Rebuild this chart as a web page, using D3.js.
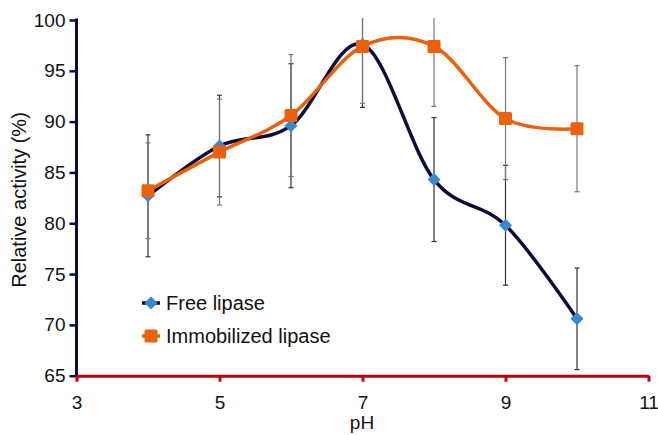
<!DOCTYPE html>
<html>
<head>
<meta charset="utf-8">
<script src="https://cdn.jsdelivr.net/npm/d3@7"></script>
<style>
  html, body { margin: 0; padding: 0; background: #fff; }
  svg { display: block; font-family: "Liberation Sans", Arial, Helvetica, sans-serif; }
</style>
</head>
<body>
<svg id="chart" width="658" height="435"></svg>
<script>
// ---- data ----
const pH = [4, 5, 6, 7, 8, 9, 10];
const freeLipase = [82.7, 87.6, 89.6, 97.6, 84.3, 79.8, 70.6];
const freeError = [6.0, 5.0, 6.1, 6.2, 6.1, 5.9, 5.0];
const immobilizedLipase = [83.2, 87.0, 90.6, 97.4, 97.4, 90.3, 89.3];
const immobilizedError = [4.7, 5.2, 6.0, 5.6, 5.9, 6.0, 6.2];
const xTicks = [3, 5, 7, 9, 11];
const yTicks = [65, 70, 75, 80, 85, 90, 95, 100];
const seriesNames = ["Free lipase", "Immobilized lipase"];
const xTitle = "pH";
const yTitle = "Relative activity (%)";

// ---- layout ----
const svg = d3.select("#chart");
const x = d3.scaleLinear().domain([3, 11]).range([76.5, 648.5]);
const y = d3.scaleLinear().domain([65, 100]).range([375.7, 20]);

const navy = "#0b0b3d";
const blue = "#3a87d0";
const orange = "#ea600b";
const red = "#c0000c";
const font = "'Liberation Sans', Arial, sans-serif";

// clip for error bars (plot area)
svg.append("defs").append("clipPath").attr("id", "plotClip")
  .append("rect").attr("x", 60).attr("y", 18).attr("width", 600).attr("height", 370);

// ---- axes ----
const yAxis = svg.append("g").attr("transform", `translate(${x(3)},0)`)
  .call(d3.axisLeft(y).tickValues(yTicks).tickSize(7).tickSizeOuter(0).tickPadding(4));
yAxis.select(".domain").attr("stroke", navy).attr("stroke-width", 3)
  .attr("d", `M0,${y(100) - 1.5}V${y(65)}`);
yAxis.selectAll(".tick line").attr("stroke", navy).attr("stroke-width", 2.5);
yAxis.selectAll(".tick text").attr("fill", "#111").style("font-size", "19px")
  .style("font-family", font);

const xAxis = svg.append("g").attr("transform", `translate(0,${y(65)})`)
  .call(d3.axisBottom(x).tickValues(xTicks).tickSize(6).tickSizeOuter(0).tickPadding(14));
xAxis.select(".domain").attr("stroke", red).attr("stroke-width", 3);
xAxis.selectAll(".tick line").attr("stroke", red).attr("stroke-width", 3);
xAxis.selectAll(".tick text").attr("fill", "#111").style("font-size", "19px")
  .style("font-family", font);

// axis titles
svg.append("text").attr("x", 362).attr("y", 429)
  .attr("text-anchor", "middle").style("font-size", "19px").attr("fill", "#111").text(xTitle);
svg.append("text").attr("transform", "translate(26,200) rotate(-90)")
  .attr("text-anchor", "middle").style("font-size", "20px").attr("fill", "#111").text(yTitle);

// ---- series ----
const series = [
  { name: seriesNames[0], values: freeLipase, errors: freeError, line: navy, fill: blue, shape: "diamond", barColor: "#333" },
  { name: seriesNames[1], values: immobilizedLipase, errors: immobilizedError, line: orange, fill: orange, shape: "square", barColor: "#777" }
];

// error bars
const eb = svg.append("g").attr("clip-path", "url(#plotClip)");
series.forEach(s => {
  pH.forEach((p, i) => {
    const cx = x(p), lo = y(s.values[i] - s.errors[i]), hi = y(s.values[i] + s.errors[i]);
    eb.append("line").attr("x1", cx).attr("x2", cx).attr("y1", lo).attr("y2", hi)
      .attr("stroke", s.barColor).attr("stroke-width", 1.2);
    [lo, hi].forEach(yy => eb.append("line").attr("x1", cx - 2.5).attr("x2", cx + 2.5)
      .attr("y1", yy).attr("y2", yy).attr("stroke", s.barColor).attr("stroke-width", 1.2));
  });
});

const lineGen = d3.line().x(d => x(d[0])).y(d => y(d[1])).curve(d3.curveCardinal.tension(0));

function drawMarker(g, shape, cx, cy, color) {
  if (shape === "diamond") {
    const r = 6.5;
    g.append("path").attr("d", `M${cx},${cy - r}L${cx + r},${cy}L${cx},${cy + r}L${cx - r},${cy}Z`)
      .attr("fill", color);
  } else {
    const s = 13;
    g.append("rect").attr("x", cx - s / 2).attr("y", cy - s / 2).attr("width", s).attr("height", s)
      .attr("rx", 1.5).attr("fill", color);
  }
}

series.forEach(s => {
  const pts = pH.map((p, i) => [p, s.values[i]]);
  svg.append("path").attr("d", lineGen(pts)).attr("fill", "none")
    .attr("stroke", s.line).attr("stroke-width", 3.5).attr("stroke-linejoin", "round");
  const mg = svg.append("g");
  pts.forEach(d => drawMarker(mg, s.shape, x(d[0]), y(d[1]), s.fill));
});

// ---- legend ----
const legendY = [303, 336];
series.forEach((s, i) => {
  const g = svg.append("g");
  g.append("line").attr("x1", 142).attr("x2", 160).attr("y1", legendY[i]).attr("y2", legendY[i])
    .attr("stroke", s.line).attr("stroke-width", 3.5);
  drawMarker(g, s.shape, 151, legendY[i], s.fill);
  g.append("text").attr("x", 166).attr("y", legendY[i]).attr("dy", "0.35em")
    .style("font-size", "20px").attr("fill", "#111").text(s.name);
});
</script>
</body>
</html>
